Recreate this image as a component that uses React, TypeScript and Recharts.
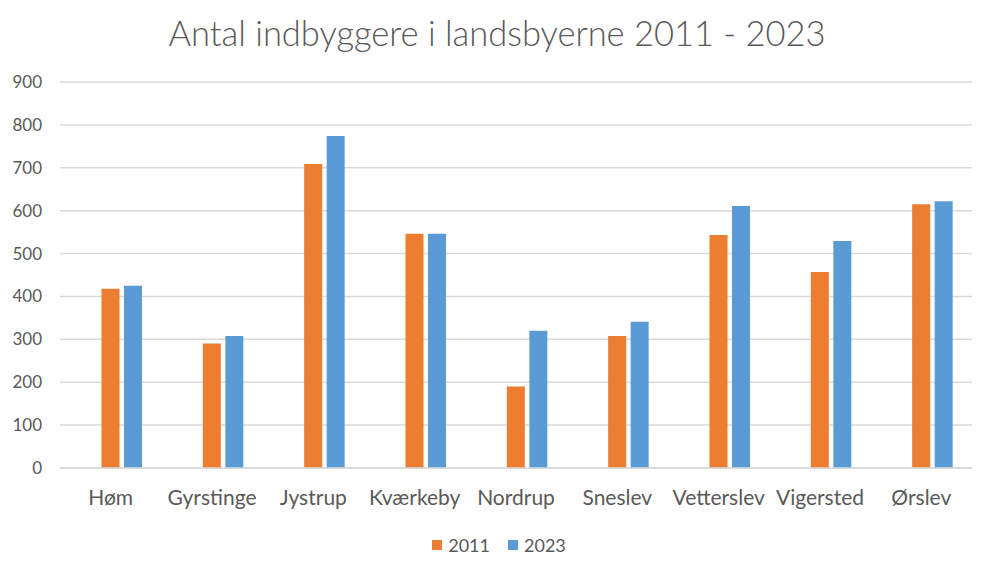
import { Bar, BarChart, CartesianGrid, Legend, XAxis, YAxis } from "recharts";

const towns = ["Høm", "Gyrstinge", "Jystrup", "Kværkeby", "Nordrup", "Sneslev", "Vetterslev", "Vigersted", "Ørslev"];
const pop2011 = [418, 290, 709, 546, 190, 308, 543, 457, 615];
const pop2023 = [425, 308, 774, 546, 320, 341, 611, 529, 622];
const yTicks = [0, 100, 200, 300, 400, 500, 600, 700, 800, 900];

const data = towns.map((town, i) => ({
  town,
  blank: 0,
  y2011: pop2011[i],
  y2023: pop2023[i],
}));

const font = "Lato, 'Open Sans', sans-serif";
const textColor = "#595959";
const series = [
  { label: "2011", color: "#ED7D31" },
  { label: "2023", color: "#5B9BD5" },
];

function LegendBox() {
  return (
    <div style={{ display: "flex", justifyContent: "center", paddingLeft: 26, fontSize: 18, color: textColor, fontFamily: font }}>
      {series.map((s, i) => (
        <div key={s.label} style={{ display: "flex", alignItems: "center", marginLeft: i ? 18 : 0 }}>
          <span style={{ width: 10, height: 10, background: s.color, marginRight: 6, display: "inline-block" }} />
          <span>{s.label}</span>
        </div>
      ))}
    </div>
  );
}

export default function App() {
  return (
    <div style={{ position: "absolute", left: 0, top: 0, width: 994, height: 577, background: "#fff", fontFamily: font }}>
      <div
        style={{
          position: "absolute",
          top: 12,
          width: 994,
          textAlign: "center",
          fontSize: 34.5,
          fontWeight: 300,
          color: textColor,
        }}
      >
        Antal indbyggere i landsbyerne 2011 - 2023
      </div>
      <BarChart
        width={994}
        height={577}
        data={data}
        margin={{ top: 82, right: 22, left: 0, bottom: 21 }}
        barSize={18}
        barGap={4.5}
      >
        <CartesianGrid vertical={false} stroke="#d9d9d9" strokeWidth={1.5} />
        <XAxis
          dataKey="town"
          axisLine={{ stroke: "#d9d9d9", strokeWidth: 1.5 }}
          tickLine={false}
          tickMargin={16}
          height={66}
          interval={0}
          tick={{ fontSize: 21, fill: textColor, fontFamily: font }}
        />
        <YAxis
          width={60}
          domain={[0, 900]}
          ticks={yTicks}
          axisLine={false}
          tickLine={false}
          tickMargin={12}
          tick={{ fontSize: 17, fill: textColor, fontFamily: font }}
        />
        <Legend verticalAlign="bottom" content={<LegendBox />} />
        <Bar dataKey="blank" legendType="none" fill="none" isAnimationActive={false} />
        <Bar dataKey="y2011" name="2011" fill="#ED7D31" isAnimationActive={false} />
        <Bar dataKey="y2023" name="2023" fill="#5B9BD5" isAnimationActive={false} />
      </BarChart>
    </div>
  );
}
